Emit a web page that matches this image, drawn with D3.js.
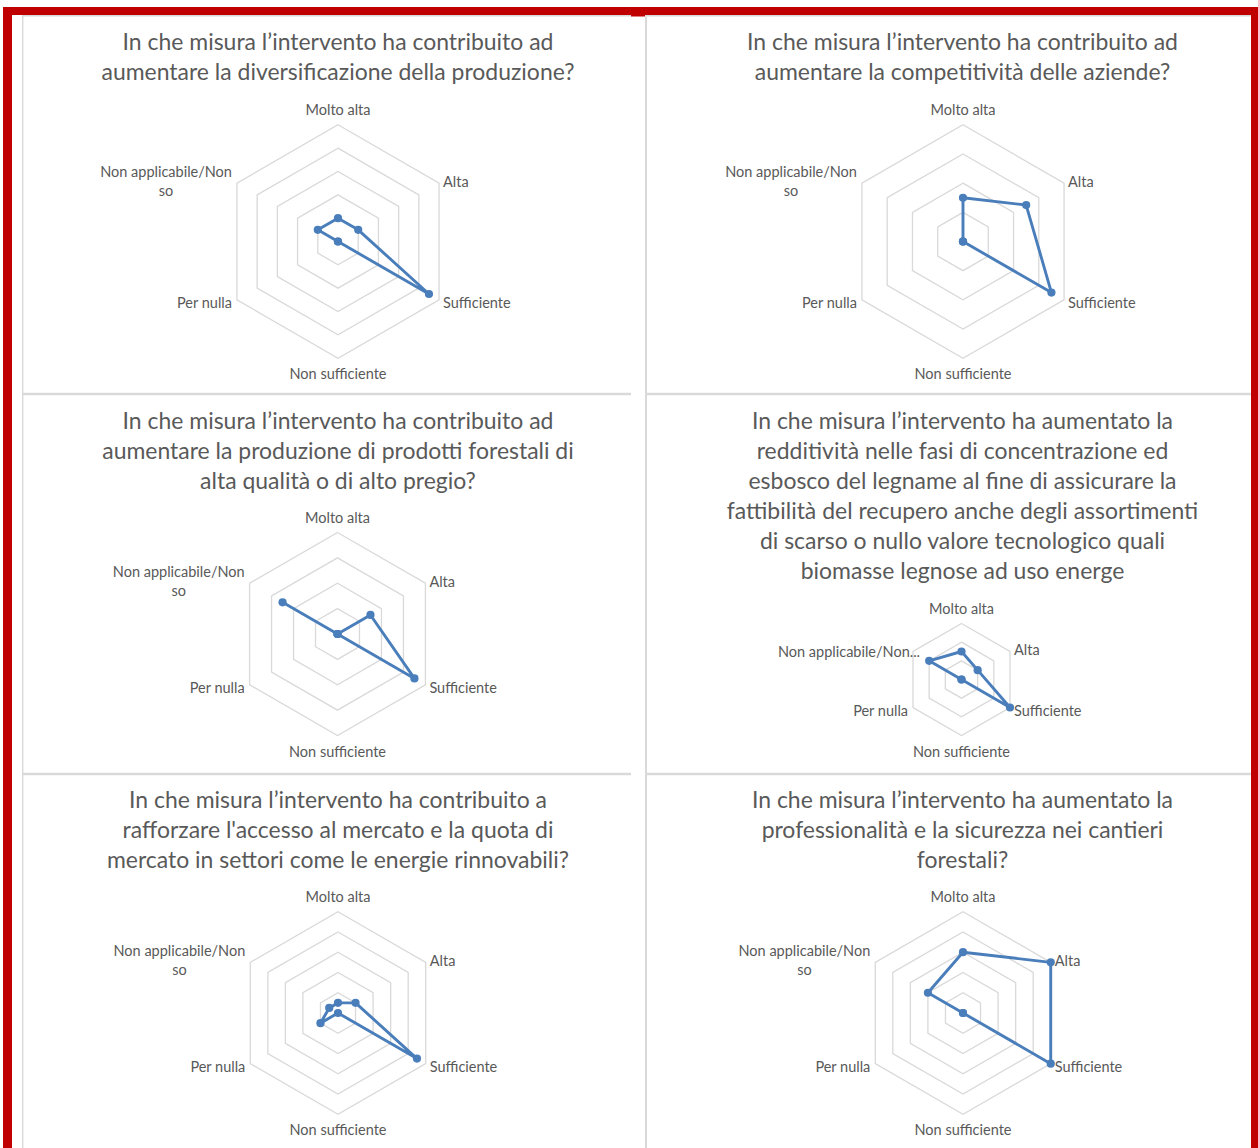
<!DOCTYPE html>
<html>
<head>
<meta charset="utf-8">
<script src="https://cdn.jsdelivr.net/npm/d3@7"></script>
<style>
  html, body { margin: 0; padding: 0; background: #fff; }
  svg { display: block; }
</style>
</head>
<body>
<script>
// Response categories, clockwise from the top axis
const categories = ["Molto alta", "Alta", "Sufficiente", "Non sufficiente", "Per nulla", "Non applicabile/Non so"];

// Number of answers per category, one array per question
const diversificazione = [2, 2, 9, 0, 0, 2];
const competitivita    = [3, 5, 7, 0, 0, 0];
const qualitaPregio    = [0, 3, 7, 0, 0, 5];
const redditivita      = [3, 2, 6, 0, 0, 4];
const accessoMercato   = [1, 2, 9, 0, 2, 1];
const sicurezza        = [3, 5, 5, 0, 0, 2];

// Radial axis maximum and gridline step of each chart
const axisMax  = [10, 8, 8, 6, 10, 5];
const axisStep = [2, 2, 2, 2, 2, 1];

// Chart titles, already wrapped into lines
const titles = [
  ["In che misura l’intervento ha contribuito ad",
   "aumentare la diversificazione della produzione?"],
  ["In che misura l’intervento ha contribuito ad",
   "aumentare la competitività delle aziende?"],
  ["In che misura l’intervento ha contribuito ad",
   "aumentare la produzione di prodotti forestali di",
   "alta qualità o di alto pregio?"],
  ["In che misura l’intervento ha aumentato la",
   "redditività nelle fasi di concentrazione ed",
   "esbosco del legname al fine di assicurare la",
   "fattibilità del recupero anche degli assortimenti",
   "di scarso o nullo valore tecnologico quali",
   "biomasse legnose ad uso energe"],
  ["In che misura l’intervento ha contribuito a",
   "rafforzare l'accesso al mercato e la quota di",
   "mercato in settori come le energie rinnovabili?"],
  ["In che misura l’intervento ha aumentato la",
   "professionalità e la sicurezza nei cantieri",
   "forestali?"]
];

// Wrapped forms of the last category label
const naLabelWrapped = ["Non applicabile/Non", "so"];
const naLabelShort   = ["Non applicabile/Non..."];

const W = 1258, H = 1148;
const FONT = "Lato, 'Open Sans', sans-serif";
const TEXT = "#595959";
const GRID = "#D9D9D9";
const SERIES = "#4A7EBB";
const FRAME = "#C00000";

const svg = d3.select("body").append("svg").attr("width", W).attr("height", H);
svg.append("rect").attr("width", W).attr("height", H).attr("fill", "#fff");

// Font sizes chosen so that reference strings take a given width
function fit(sample, target) {
  const t = svg.append("text").attr("font-family", FONT).attr("font-size", 20).text(sample);
  const w = t.node().getComputedTextLength();
  t.remove();
  return 20 * target / w;
}
const titleSize = fit("In che misura l’intervento ha contribuito ad", 431);
const labelSize = fit("Non sufficiente", 97);

// Red page frame
svg.append("rect").attr("x", 3).attr("y", 7).attr("width", 1255).attr("height", 8).attr("fill", FRAME);
svg.append("rect").attr("x", 3).attr("y", 7).attr("width", 9).attr("height", H - 7).attr("fill", FRAME);
svg.append("rect").attr("x", 1251).attr("y", 7).attr("width", 7).attr("height", H - 7).attr("fill", FRAME);
svg.append("rect").attr("x", 631).attr("y", 15).attr("width", 14).attr("height", 1.5).attr("fill", FRAME);

// Chart borders
const borders = svg.append("g").attr("stroke", GRID).attr("fill", "none");
[[15.7, 1.4], [394, 2.4], [774, 2.4]].forEach(([y, w]) => {
  borders.append("line").attr("x1", 22).attr("x2", 631).attr("y1", y).attr("y2", y).attr("stroke-width", w);
  borders.append("line").attr("x1", 645).attr("x2", 1251).attr("y1", y).attr("y2", y).attr("stroke-width", w);
});
borders.append("line").attr("x1", 22.7).attr("x2", 22.7).attr("y1", 15).attr("y2", H).attr("stroke-width", 1.4);
borders.append("line").attr("x1", 646).attr("x2", 646).attr("y1", 16.5).attr("y2", H).attr("stroke-width", 2);

// Placement of each chart
const panels = [
  { values: diversificazione, tx: 338,   ty: 50,  cx: 338,   cy: 241.5, r: 116.7, na: naLabelWrapped },
  { values: competitivita,    tx: 962.5, ty: 50,  cx: 963,   cy: 241.5, r: 116.7, na: naLabelWrapped },
  { values: qualitaPregio,    tx: 338,   ty: 429, cx: 337.5, cy: 634,   r: 101.5, na: naLabelWrapped },
  { values: redditivita,      tx: 962.5, ty: 429, cx: 961.5, cy: 679.5, r: 56,    na: naLabelShort },
  { values: accessoMercato,   tx: 338,   ty: 808, cx: 338,   cy: 1013,  r: 101.3, na: naLabelWrapped },
  { values: sicurezza,        tx: 962.5, ty: 808, cx: 963,   cy: 1013,  r: 101.3, na: naLabelWrapped }
];

const angle = i => i * Math.PI / 3;

panels.forEach((p, k) => {
  const max = axisMax[k], step = axisStep[k];
  const rScale = d3.scaleLinear().domain([0, max]).range([0, p.r]);
  const radial = d3.lineRadial()
    .angle((d, i) => angle(i))
    .radius(d => rScale(d))
    .curve(d3.curveLinearClosed);

  // Title
  const title = svg.append("text")
    .attr("font-family", FONT).attr("font-size", titleSize).attr("fill", TEXT)
    .attr("text-anchor", "middle");
  titles[k].forEach((line, j) => {
    title.append("tspan").attr("x", p.tx).attr("y", p.ty + j * 30).text(line);
  });

  const g = svg.append("g").attr("transform", `translate(${p.cx},${p.cy})`);

  // Hexagonal gridlines
  const rings = d3.range(step, max + step / 2, step);
  g.append("g").selectAll("path").data(rings).join("path")
    .attr("d", v => radial(categories.map(() => v)))
    .attr("fill", "none").attr("stroke", GRID).attr("stroke-width", 1.3);

  // Category labels
  const labels = g.append("g").attr("font-family", FONT).attr("font-size", labelSize).attr("fill", TEXT);
  categories.forEach((c, i) => {
    const [vx, vy] = d3.pointRadial(angle(i), p.r);
    if (i === 0) {
      labels.append("text").attr("x", vx).attr("y", vy - 10).attr("text-anchor", "middle").text(c);
    } else if (i === 1) {
      labels.append("text").attr("x", vx + 4).attr("y", vy + 3.5).text(c);
    } else if (i === 2) {
      labels.append("text").attr("x", vx + 4).attr("y", vy + 8.5).text(c);
    } else if (i === 3) {
      labels.append("text").attr("x", vx).attr("y", vy + 21).attr("text-anchor", "middle").text(c);
    } else if (i === 4) {
      labels.append("text").attr("x", vx - 5).attr("y", vy + 8.5).attr("text-anchor", "end").text(c);
    } else {
      if (p.na.length === 1) {
        labels.append("text").attr("x", vx + 7).attr("y", vy + 5).attr("text-anchor", "end").text(p.na[0]);
      } else {
        const t = labels.append("text").attr("text-anchor", "middle");
        const first = t.append("tspan").text(p.na[0]);
        const w = first.node().getComputedTextLength();
        const mx = vx - 5 - w / 2;
        first.attr("x", mx).attr("y", vy - 6);
        t.append("tspan").attr("x", mx).attr("y", vy + 13).text(p.na[1]);
      }
    }
  });

  // Series
  g.append("path")
    .attr("d", radial(p.values))
    .attr("fill", "none").attr("stroke", SERIES).attr("stroke-width", 2.9)
    .attr("stroke-linejoin", "round");
  g.append("g").selectAll("circle").data(p.values).join("circle")
    .attr("cx", (d, i) => d3.pointRadial(angle(i), rScale(d))[0])
    .attr("cy", (d, i) => d3.pointRadial(angle(i), rScale(d))[1])
    .attr("r", 4.1)
    .attr("fill", SERIES);
});
</script>
</body>
</html>
